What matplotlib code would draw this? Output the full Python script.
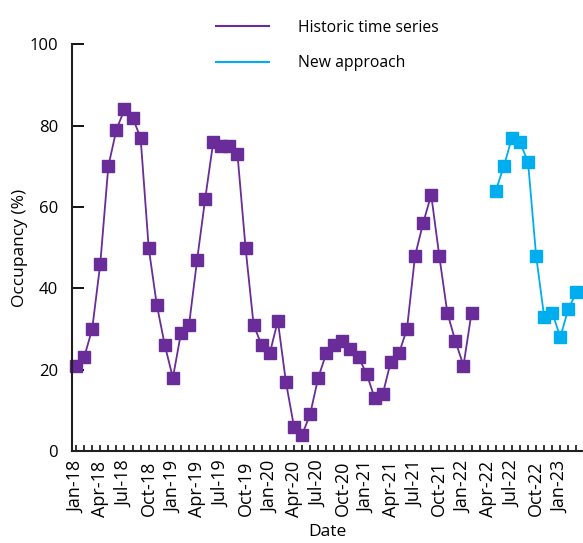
import numpy as np
import matplotlib
matplotlib.use("Agg")
import matplotlib.pyplot as plt

# monthly occupancy values
historic_start = "2018-01"
historic = [21, 23, 30, 46, 70, 79, 84, 82, 77, 50, 36, 26,
            18, 29, 31, 47, 62, 76, 75, 75, 73, 50, 31, 26,
            24, 32, 17, 6, 4, 9, 18, 24, 26, 27, 25, 23,
            19, 13, 14, 22, 24, 30, 48, 56, 63, 48, 34, 27,
            21, 34]
new_start = "2022-05"
new_approach = [64, 70, 77, 76, 71, 48, 33, 34, 28, 35, 39]

tick_labels = ["Jan-18", "Apr-18", "Jul-18", "Oct-18", "Jan-19", "Apr-19", "Jul-19",
               "Oct-19", "Jan-20", "Apr-20", "Jul-20", "Oct-20", "Jan-21", "Apr-21",
               "Jul-21", "Oct-21", "Jan-22", "Apr-22", "Jul-22", "Oct-22", "Jan-23"]

purple = "#6a2c98"
blue = "#00aeef"

plt.rcParams['font.family'] = ['Open Sans', 'DejaVu Sans']

def month_index(start, n):
    y, m = map(int, start.split("-"))
    first = (y - 2018) * 12 + (m - 1)
    return np.arange(first, first + n)

x_hist = month_index(historic_start, len(historic))
x_new = month_index(new_start, len(new_approach))

fig = plt.figure(figsize=(5.83, 5.43), dpi=100)
ax = fig.add_axes([0.1235, 0.1694, 0.875, 0.749])

ax.plot(x_hist, historic, color=purple, lw=1.3, marker='s', ms=8,
        label='Historic time series', clip_on=False)
ax.plot(x_new, new_approach, color=blue, lw=1.3, marker='s', ms=8,
        label='New approach', clip_on=False)

ax.set_xlim(-0.5, 62.7)
ax.set_ylim(0, 100)

ax.set_yticks([0, 20, 40, 60, 80, 100])
ax.set_xticks(np.arange(0, 63), minor=True)
ax.set_xticks(np.arange(0, 61, 3))
ax.set_xticklabels(tick_labels, rotation=90)

ax.tick_params(axis='y', direction='in', length=8.5, width=1.3, labelsize=12, pad=10)
ax.tick_params(axis='x', which='both', direction='in', length=4.5, width=1.1,
               labelsize=13, pad=7)

for s in ['top', 'right']:
    ax.spines[s].set_visible(False)
for s in ['left', 'bottom']:
    ax.spines[s].set_linewidth(1.5)
    ax.spines[s].set_color('#231f20')

ax.set_xlabel('Date', fontsize=12.5, labelpad=5)
ax.set_ylabel('Occupancy (%)', fontsize=12.5, labelpad=1)

h, l = ax.get_legend_handles_labels()
leg = fig.legend([plt.Line2D([], [], color=purple, lw=1.5),
                  plt.Line2D([], [], color=blue, lw=1.5)], l,
                 loc='upper left', bbox_to_anchor=(0.346, 0.99), frameon=False,
                 fontsize=11.3, handlelength=3.4, handletextpad=1.85, labelspacing=1.25)

fig.savefig("out.png", dpi=100)
